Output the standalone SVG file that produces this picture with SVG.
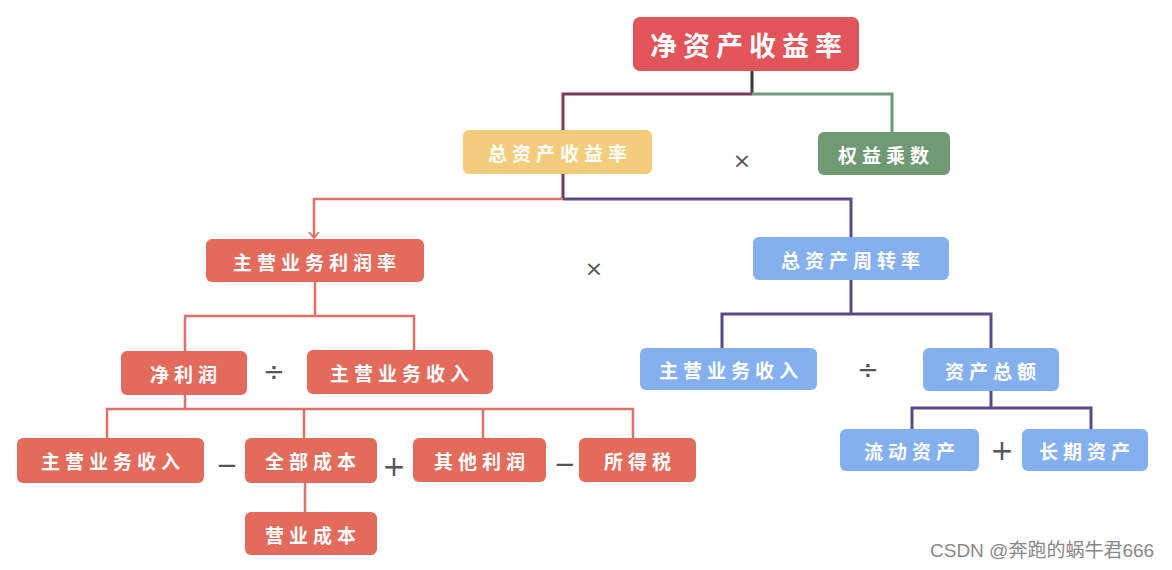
<svg xmlns="http://www.w3.org/2000/svg" width="1172" height="570" viewBox="0 0 1172 570">
<style>
.lbl{font-family:"Noto Sans CJK SC","Noto Sans",sans-serif;font-weight:bold;fill:#fff;font-size:19px;letter-spacing:5px;text-anchor:middle;dominant-baseline:central}
.big{font-size:27px;letter-spacing:6px}
.op{font-family:"DejaVu Sans","Liberation Sans",sans-serif;fill:#555;text-anchor:middle;dominant-baseline:central}
.r{fill:#e36b5c}
.b{fill:#84b0f0}
.lr{fill:none;stroke:#e0706a;stroke-width:2.5}
.lp{fill:none;stroke:#5b4a86;stroke-width:3}
.wm{font-family:"Liberation Sans","Noto Sans CJK SC",sans-serif;font-size:19px;fill:#888}
</style>
<defs>
<marker id="arr" viewBox="0 0 12 12" refX="11" refY="6" markerWidth="12" markerHeight="12" markerUnits="userSpaceOnUse" orient="auto">
<path d="M5,1 L11,6 L5,11" fill="none" stroke="#e0706a" stroke-width="1.8"/>
</marker>
</defs>
<rect width="1172" height="570" fill="#fff"/>
<g id="connectors">
<path d="M752,71 V94" fill="none" stroke="#3a3a3a" stroke-width="3"/>
<path d="M752,94 H563 V130" fill="none" stroke="#7b3a58" stroke-width="3"/>
<path d="M752,94 H892 V132" fill="none" stroke="#6e9a7a" stroke-width="3"/>
<path d="M563,174 V199" fill="none" stroke="#6a3a62" stroke-width="3"/>
<path d="M563,199 H314 V238" class="lr" marker-end="url(#arr)"/>
<path d="M563,199 H851 V237" class="lp"/>
<path d="M315,282 V316" class="lr"/>
<path d="M185,351 V316 H414 V350" class="lr"/>
<path d="M185,395 V409" class="lr"/>
<path d="M107,438 V409 H633 V438" class="lr"/>
<path d="M304,409 V438" class="lr"/>
<path d="M483,409 V438" class="lr"/>
<path d="M305,483 V512" class="lr"/>
<path d="M851,280 V314" class="lp"/>
<path d="M722,348 V314 H991 V348" class="lp"/>
<path d="M991,391 V408" class="lp"/>
<path d="M912,429 V408 H1091 V429" class="lp"/>
</g>
<g id="n-roe"><rect x="633" y="17" width="226" height="54" rx="7" fill="#e0545a"/><text class="lbl big" x="749" y="44">净资产收益率</text></g>
<g id="n-roa"><rect x="463" y="130" width="189" height="44" rx="6" fill="#f4cd7c"/><text class="lbl" x="560" y="152">总资产收益率</text></g>
<g id="n-em"><rect x="818" y="132" width="132" height="43" rx="6" fill="#6f9a73"/><text class="lbl" x="886" y="154">权益乘数</text></g>
<g id="n-opm"><rect x="206" y="239" width="218" height="43" rx="6" class="r"/><text class="lbl" x="317" y="261">主营业务利润率</text></g>
<g id="n-tat"><rect x="753" y="237" width="196" height="43" rx="6" class="b"/><text class="lbl" x="853" y="259">总资产周转率</text></g>
<g id="n-np"><rect x="121" y="351" width="126" height="44" rx="6" class="r"/><text class="lbl" x="186" y="373">净利润</text></g>
<g id="n-rev1"><rect x="307" y="350" width="186" height="44" rx="6" class="r"/><text class="lbl" x="402" y="372">主营业务收入</text></g>
<g id="n-rev3"><rect x="640" y="348" width="177" height="42" rx="6" class="b"/><text class="lbl" x="731" y="369">主营业务收入</text></g>
<g id="n-ta"><rect x="923" y="348" width="136" height="43" rx="6" class="b"/><text class="lbl" x="993" y="370">资产总额</text></g>
<g id="n-rev2"><rect x="17" y="438" width="187" height="45" rx="6" class="r"/><text class="lbl" x="113" y="460">主营业务收入</text></g>
<g id="n-tc"><rect x="245" y="438" width="132" height="45" rx="6" class="r"/><text class="lbl" x="313" y="460">全部成本</text></g>
<g id="n-op"><rect x="413" y="438" width="133" height="44" rx="6" class="r"/><text class="lbl" x="482" y="460">其他利润</text></g>
<g id="n-tax"><rect x="579" y="438" width="117" height="44" rx="6" class="r"/><text class="lbl" x="640" y="460">所得税</text></g>
<g id="n-cogs"><rect x="245" y="512" width="132" height="43" rx="6" class="r"/><text class="lbl" x="313" y="534">营业成本</text></g>
<g id="n-ca"><rect x="840" y="429" width="139" height="42" rx="6" class="b"/><text class="lbl" x="912" y="450">流动资产</text></g>
<g id="n-la"><rect x="1022" y="429" width="126" height="42" rx="6" class="b"/><text class="lbl" x="1087" y="450">长期资产</text></g>
<g id="operators">
<text class="op" x="742" y="160" font-size="22">×</text>
<text class="op" x="594" y="268" font-size="22">×</text>
<text class="op" x="274" y="372" font-size="26">÷</text>
<text class="op" x="868" y="370" font-size="26">÷</text>
<text class="op" x="227" y="465" font-size="26">−</text>
<text class="op" x="394" y="466" font-size="28">+</text>
<text class="op" x="565" y="464" font-size="26">−</text>
<text class="op" x="1002" y="450" font-size="28">+</text>
</g>
<text class="wm" x="930" y="557">CSDN @奔跑的蜗牛君666</text>
</svg>
